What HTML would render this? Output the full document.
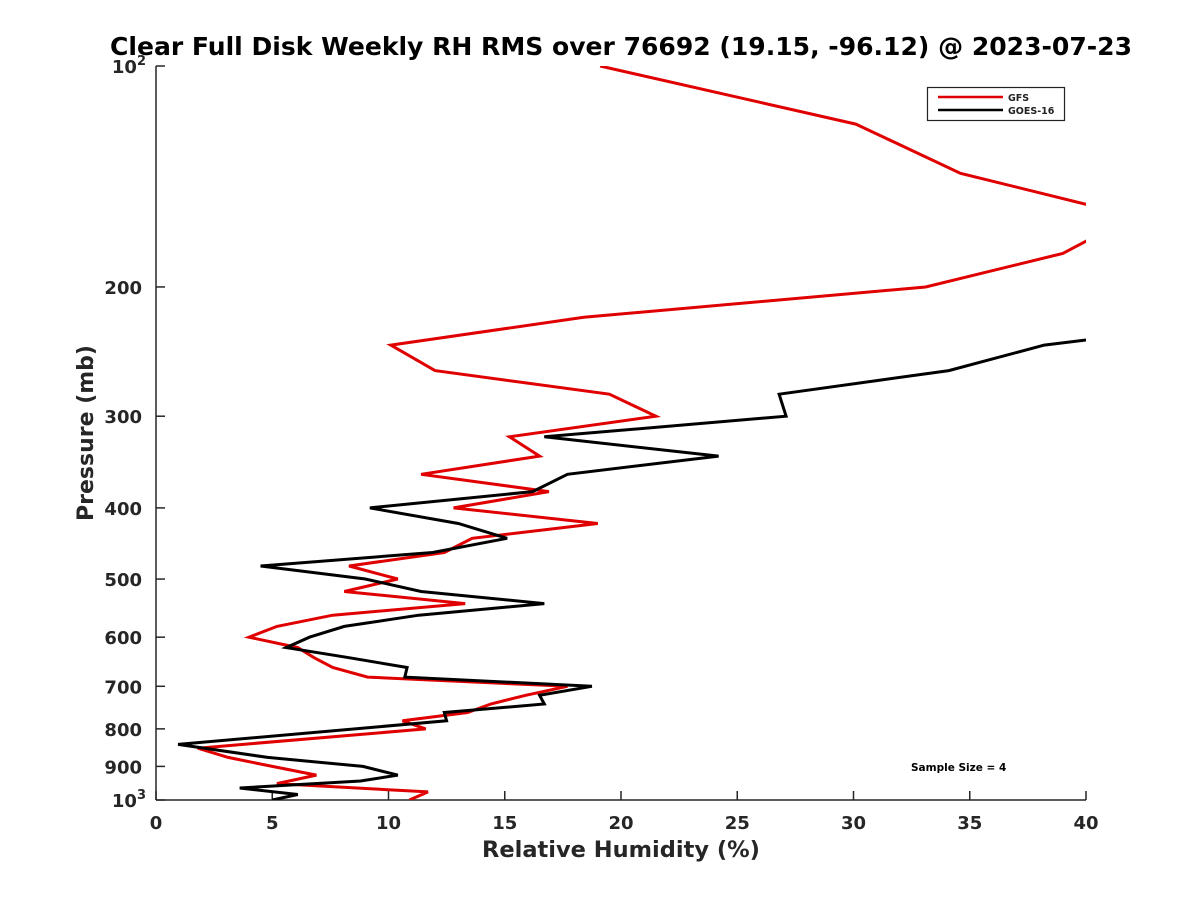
<!DOCTYPE html>
<html><head><meta charset="utf-8"><style>
body{margin:0;background:#fff;}
svg{font-family:"DejaVu Sans","Liberation Sans",sans-serif;}
</style></head><body>
<svg id="chart" width="1200" height="900" xmlns="http://www.w3.org/2000/svg">
<rect width="1200" height="900" fill="#fff"/>
<defs><clipPath id="clip"><rect x="156" y="66" width="930" height="734"/></clipPath></defs>
<text x="621" y="55" text-anchor="middle" font-size="24.5" font-weight="bold" fill="#000" textLength="1022" lengthAdjust="spacingAndGlyphs">Clear Full Disk Weekly RH RMS over 76692 (19.15, -96.12) @ 2023-07-23</text>
<g id="axes"></g>
<g id="series" clip-path="url(#clip)"></g>
<g>
<rect x="927.5" y="87.5" width="137" height="33" fill="#fff" stroke="#222" stroke-width="1.2"/>
<line x1="938" y1="97" x2="1003" y2="97" stroke="#e00000" stroke-width="2.5"/>
<text x="1008" y="101" font-size="9.5" font-weight="bold" fill="#222">GFS</text>
<line x1="938" y1="110" x2="1003" y2="110" stroke="#000" stroke-width="2.5"/>
<text x="1008" y="114" font-size="9.5" font-weight="bold" fill="#222">GOES-16</text>
</g>
<text x="911" y="771" font-size="10.5" font-weight="bold" fill="#000">Sample Size = 4</text>
<text x="621" y="857" text-anchor="middle" font-size="22.5" font-weight="bold" fill="#262626">Relative Humidity (%)</text>
<text transform="translate(93,433) rotate(-90)" text-anchor="middle" font-size="22" font-weight="bold" fill="#262626">Pressure (mb)</text>
</svg>
<script>
const xTicks=[0,5,10,15,20,25,30,35,40];
const yTicks=[100,200,300,400,500,600,700,800,900,1000];
const yTickLabels=["","200","300","400","500","600","700","800","900",""];
const gfsPressure=[100,120,140,160,170,180,200,220,240,260,280,300,320,340,360,380,400,420,440,460,480,500,520,540,560,580,600,620,640,660,680,700,720,740,760,780,800,850,875,900,925,950,975,1000];
const gfsValues=[19.1,30.1,34.6,42,40.5,39.0,33.1,18.4,10.1,12.0,19.5,21.5,15.2,16.5,11.4,16.9,12.8,19.0,13.6,12.4,8.3,10.4,8.1,13.3,7.6,5.2,4.0,6.1,6.8,7.6,9.1,17.7,15.9,14.4,13.4,10.6,11.6,1.8,3.1,5.0,6.9,5.2,11.7,10.9];
const goesPressure=[220,240,260,280,300,320,340,360,380,400,420,440,460,480,500,520,540,560,580,600,620,640,660,680,700,720,740,760,780,840,875,900,925,942,963,983,1000];
const goesValues=[48,38.2,34.1,26.8,27.1,16.7,24.2,17.7,16.2,9.2,13.0,15.1,11.9,4.5,9.0,11.4,16.7,11.3,8.1,6.6,5.6,8.3,10.8,10.7,18.75,16.5,16.7,12.4,12.5,0.95,4.8,8.9,10.4,8.8,3.6,6.1,5.0];

const X0=156,X1=1086,Y0=66,Y1=800;
const xs=v=>X0+(v-0)/40*(X1-X0);
const ys=p=>Y0+(Math.log10(p)-2)*(Y1-Y0);
const NS="http://www.w3.org/2000/svg";
function mk(t,a){const e=document.createElementNS(NS,t);for(const k in a)e.setAttribute(k,a[k]);return e;}
const axes=document.getElementById('axes');
const yAxis=mk('line',{x1:X0,y1:Y0,x2:X0,y2:Y1,stroke:'#262626','stroke-width':1.5});


axes.appendChild(yAxis);
const xAxis=mk('line',{x1:X0,y1:Y1,x2:X1,y2:Y1,stroke:'#262626','stroke-width':1.5});


axes.appendChild(xAxis);
xTicks.forEach(v=>{
  const x=xs(v);
  const t=mk('line',{x1:x,y1:Y1,x2:x,y2:Y1-9,stroke:'#262626','stroke-width':1.5});
  
  
  axes.appendChild(t);
  const l=mk('text',{x:x,y:829,'text-anchor':'middle','font-size':18,'font-weight':'bold',fill:'#262626'});
  l.textContent=v;
  
  
  axes.appendChild(l);
});
yTicks.forEach((p,i)=>{
  const y=ys(p);
  const t=mk('line',{x1:X0,y1:y,x2:X0+9,y2:y,stroke:'#262626','stroke-width':1.5});
  
  
  axes.appendChild(t);
  if(yTickLabels[i]){
    const l=mk('text',{x:142,y:y+7,'text-anchor':'end','font-size':18,'font-weight':'bold',fill:'#262626'});
    l.textContent=yTickLabels[i];
    
    
    axes.appendChild(l);
  }
});
[[100,'2'],[1000,'3']].forEach(([p,e])=>{
  const l=mk('text',{x:146,y:ys(p)+7,'text-anchor':'end','font-size':18,'font-weight':'bold',fill:'#262626'});
  l.innerHTML='10<tspan dy="-8" font-size="13">'+e+'</tspan>';
  
  
  axes.appendChild(l);
});
const ser=document.getElementById('series');
function line(ps,vs,color,name){
  const pts=ps.map((p,i)=>xs(vs[i]).toFixed(1)+','+ys(p).toFixed(1)).join(' ');
  const pl=mk('polyline',{points:pts,fill:'none',stroke:color,'stroke-width':3,'stroke-linejoin':'miter'});
  
  
  ser.appendChild(pl);
}
line(gfsPressure,gfsValues,'#e00000','gfs-line');
line(goesPressure,goesValues,'#000000','goes16-line');
</script>
</body></html>
